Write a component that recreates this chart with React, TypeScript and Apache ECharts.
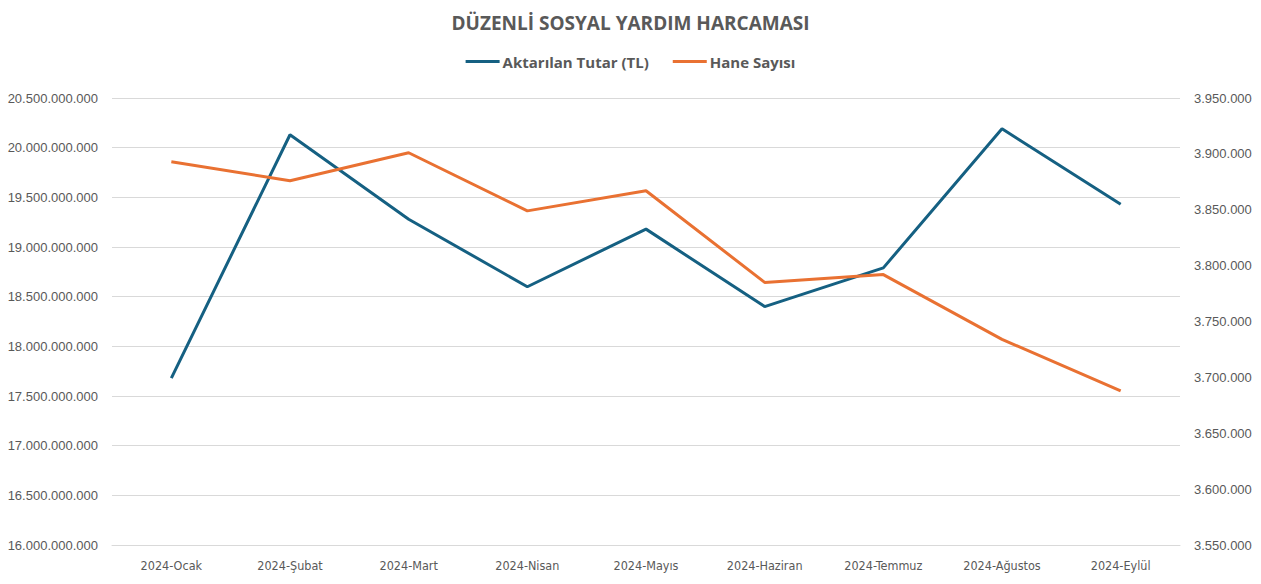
import React, { useEffect, useRef } from "react";
import * as echarts from "echarts";

const categories = [
  "2024-Ocak",
  "2024-Şubat",
  "2024-Mart",
  "2024-Nisan",
  "2024-Mayıs",
  "2024-Haziran",
  "2024-Temmuz",
  "2024-Ağustos",
  "2024-Eylül",
];

const aktarilanTutar = [
  17680000000, 20130000000, 19280000000, 18600000000, 19180000000,
  18400000000, 18790000000, 20190000000, 19430000000,
];

const haneSayisi = [
  3893000, 3876000, 3901000, 3849000, 3867000, 3785000, 3792000, 3734000, 3688000,
];

const fmt = (v: number) =>
  Math.round(v)
    .toString()
    .replace(/\B(?=(\d{3})+(?!\d))/g, ".");

export default function App() {
  const ref = useRef<HTMLDivElement>(null);
  useEffect(() => {
    if (!ref.current) return;
    const chart = echarts.init(ref.current, undefined, { renderer: "svg" });
    const gray = "#595959";
    chart.setOption({
      animation: false,
      backgroundColor: "#ffffff",
      title: {
        text: "DÜZENLİ SOSYAL YARDIM HARCAMASI",
        left: "center",
        top: 8,
        textStyle: {
          fontFamily: "Open Sans",
          fontSize: 19,
          fontWeight: "bold",
          color: gray,
        },
      },
      legend: {
        top: 49,
        left: "center",
        itemWidth: 34,
        itemHeight: 3,
        itemGap: 24,
        icon: "rect",
        textStyle: {
          fontFamily: "Open Sans",
          fontSize: 15,
          fontWeight: "bold",
          color: gray,
          padding: [0, 0, 0, -2],
        },
        data: ["Aktarılan Tutar (TL)", "Hane Sayısı"],
      },
      grid: { left: 112, right: 81, top: 98, bottom: 39, containLabel: false },
      xAxis: {
        type: "category",
        data: categories,
        boundaryGap: true,
        axisLine: { lineStyle: { color: "#d9d9d9" } },
        axisTick: { show: false },
        axisLabel: {
          fontFamily: "'DejaVu Sans Condensed', 'Roboto', sans-serif",
          fontSize: 12.5,
          color: gray,
          margin: 14,
        },
      },
      yAxis: [
        {
          type: "value",
          min: 16000000000,
          max: 20500000000,
          interval: 500000000,
          axisLine: { show: false },
          axisTick: { show: false },
          splitLine: { lineStyle: { color: "#d9d9d9", width: 1 } },
          axisLabel: {
            fontFamily: "Liberation Sans",
            fontSize: 13,
            color: gray,
            margin: 14,
            formatter: (v: number) => fmt(v),
          },
        },
        {
          type: "value",
          min: 3550000,
          max: 3950000,
          interval: 50000,
          axisLine: { show: false },
          axisTick: { show: false },
          splitLine: { show: false },
          axisLabel: {
            fontFamily: "Liberation Sans",
            fontSize: 13,
            color: gray,
            margin: 14,
            formatter: (v: number) => fmt(v),
          },
        },
      ],
      series: [
        {
          name: "Aktarılan Tutar (TL)",
          type: "line",
          yAxisIndex: 0,
          data: aktarilanTutar,
          symbol: "none",
          lineStyle: { color: "#156082", width: 3 },
          itemStyle: { color: "#156082" },
        },
        {
          name: "Hane Sayısı",
          type: "line",
          yAxisIndex: 1,
          data: haneSayisi,
          symbol: "none",
          lineStyle: { color: "#E97132", width: 3 },
          itemStyle: { color: "#E97132" },
        },
      ],
    });
    return () => chart.dispose();
  }, []);
  return <div ref={ref} style={{ width: 1261, height: 584, position: "absolute", left: 0, top: 0 }} />;
}
